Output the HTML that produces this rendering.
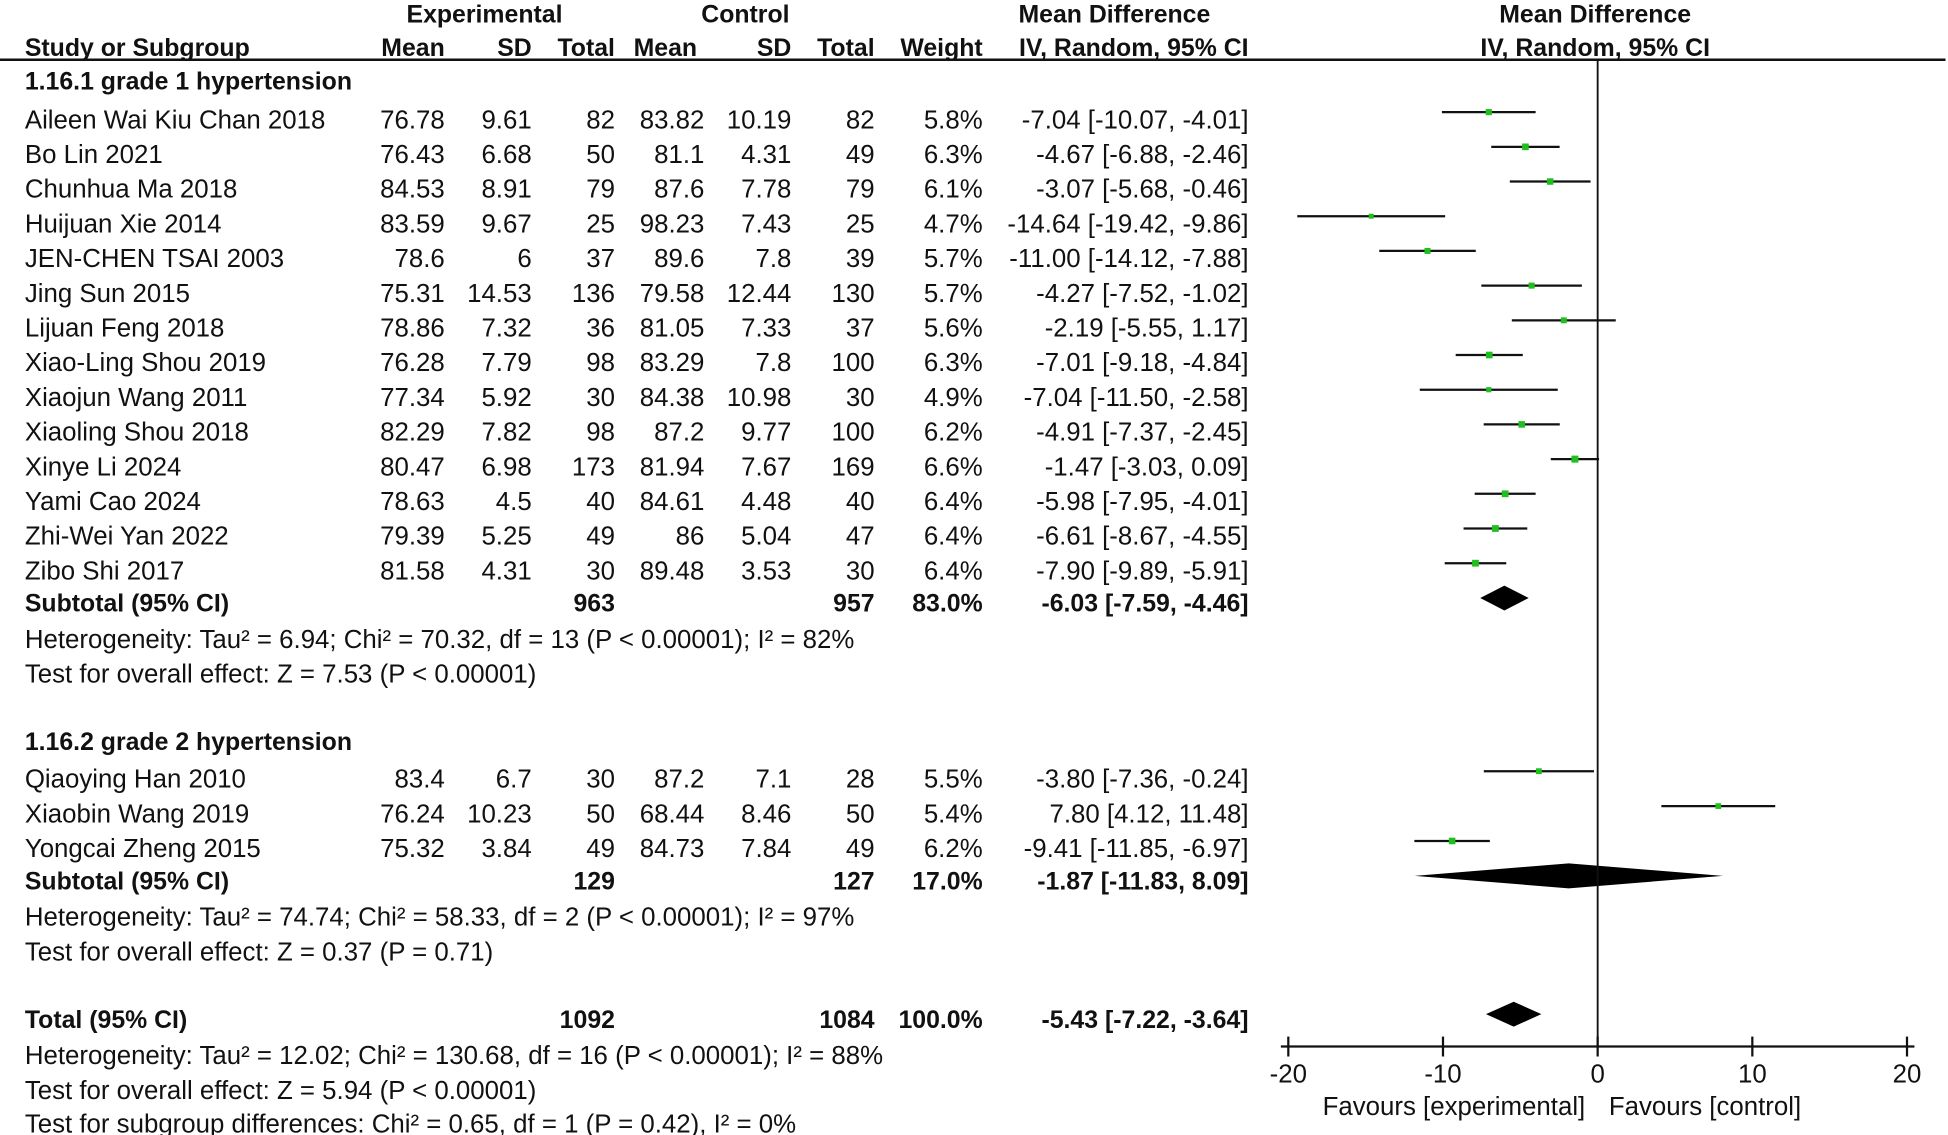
<!DOCTYPE html>
<html><head><meta charset="utf-8"><style>
html,body{margin:0;padding:0;background:#fff;}
svg{display:block;}
text{font-family:"Liberation Sans",Arial,sans-serif;font-size:20.8px;fill:#111;}
.b{font-weight:bold;font-size:20px;}
</style></head><body>
<svg id="plot" width="1948" height="1135" viewBox="0 0 1568 911" preserveAspectRatio="none" xmlns="http://www.w3.org/2000/svg">
<g id="hdr">
<text class="b" x="390" y="18" text-anchor="middle">Experimental</text>
<text class="b" x="600" y="18" text-anchor="middle">Control</text>
<text class="b" x="897" y="18" text-anchor="middle">Mean Difference</text>
<text class="b" x="1284" y="18" text-anchor="middle">Mean Difference</text>
<text class="b" x="20" y="45">Study or Subgroup</text>
<text class="b" x="358" y="45" text-anchor="end">Mean</text>
<text class="b" x="428" y="45" text-anchor="end">SD</text>
<text class="b" x="495" y="45" text-anchor="end">Total</text>
<text class="b" x="510" y="45">Mean</text>
<text class="b" x="637" y="45" text-anchor="end">SD</text>
<text class="b" x="704" y="45" text-anchor="end">Total</text>
<text class="b" x="791" y="45" text-anchor="end">Weight</text>
<text class="b" x="1005" y="45" text-anchor="end">IV, Random, 95% CI</text>
<text class="b" x="1284" y="45" text-anchor="middle">IV, Random, 95% CI</text>
<line x1="0" y1="48" x2="1566" y2="48" stroke="#111" stroke-width="2"/>
</g>
<g id="rows"></g>
<g id="marks"></g>
<g id="axis"></g>
</svg>
<script>
const studyNames=["Aileen Wai Kiu Chan 2018","Bo Lin 2021","Chunhua Ma 2018","Huijuan Xie 2014","JEN-CHEN TSAI 2003","Jing Sun 2015","Lijuan Feng 2018","Xiao-Ling Shou 2019","Xiaojun Wang 2011","Xiaoling Shou 2018","Xinye Li 2024","Yami Cao 2024","Zhi-Wei Yan 2022","Zibo Shi 2017","Qiaoying Han 2010","Xiaobin Wang 2019","Yongcai Zheng 2015"];
const expMean=["76.78","76.43","84.53","83.59","78.6","75.31","78.86","76.28","77.34","82.29","80.47","78.63","79.39","81.58","83.4","76.24","75.32"];
const expSD=["9.61","6.68","8.91","9.67","6","14.53","7.32","7.79","5.92","7.82","6.98","4.5","5.25","4.31","6.7","10.23","3.84"];
const expN=[82,50,79,25,37,136,36,98,30,98,173,40,49,30,30,50,49];
const ctlMean=["83.82","81.1","87.6","98.23","89.6","79.58","81.05","83.29","84.38","87.2","81.94","84.61","86","89.48","87.2","68.44","84.73"];
const ctlSD=["10.19","4.31","7.78","7.43","7.8","12.44","7.33","7.8","10.98","9.77","7.67","4.48","5.04","3.53","7.1","8.46","7.84"];
const ctlN=[82,49,79,25,39,130,37,100,30,100,169,40,47,30,28,50,49];
const weights=[5.8,6.3,6.1,4.7,5.7,5.7,5.6,6.3,4.9,6.2,6.6,6.4,6.4,6.4,5.5,5.4,6.2];
const md=[-7.04,-4.67,-3.07,-14.64,-11.00,-4.27,-2.19,-7.01,-7.04,-4.91,-1.47,-5.98,-6.61,-7.90,-3.80,7.80,-9.41];
const lo=[-10.07,-6.88,-5.68,-19.42,-14.12,-7.52,-5.55,-9.18,-11.50,-7.37,-3.03,-7.95,-8.67,-9.89,-7.36,4.12,-11.85];
const hi=[-4.01,-2.46,-0.46,-9.86,-7.88,-1.02,1.17,-4.84,-2.58,-2.45,0.09,-4.01,-4.55,-5.91,-0.24,11.48,-6.97];
const pooledLabels=["Subtotal (95% CI)","Subtotal (95% CI)","Total (95% CI)"];
const pooledExpN=[963,129,1092];
const pooledCtlN=[957,127,1084];
const pooledW=["83.0%","17.0%","100.0%"];
const pooledMD=[-6.03,-1.87,-5.43];
const pooledLo=[-7.59,-11.83,-7.22];
const pooledHi=[-4.46,8.09,-3.64];
const xTicks=[-20,-10,0,10,20];

const NS="http://www.w3.org/2000/svg";
const rowsG=document.getElementById('rows'),marksG=document.getElementById('marks'),axisG=document.getElementById('axis');
const X0=1286,XS=12.45,AXY=840;
function xs(v){return X0+v*XS;}
function mk(tag,attrs,parent){const e=document.createElementNS(NS,tag);for(const k in attrs)e.setAttribute(k,attrs[k]);parent.appendChild(e);return e;}
function txt(s,x,y,anchor,bold,parent){const t=mk('text',{x:x,y:y,'text-anchor':anchor||'start'},parent);if(bold)t.setAttribute('class','b');t.textContent=s;return t;}
function fmt(v){return v.toFixed(2);}
function ciStr(m,l,h){return fmt(m)+" ["+fmt(l)+", "+fmt(h)+"]";}

const g1=txt("1.16.1 grade 1 hypertension",20,72,'start',true,rowsG);


const g2=txt("1.16.2 grade 2 hypertension",20,602,'start',true,rowsG);


const notes=[["Heterogeneity: Tau² = 6.94; Chi² = 70.32, df = 13 (P < 0.00001); I² = 82%",520],["Test for overall effect: Z = 7.53 (P < 0.00001)",548],["Heterogeneity: Tau² = 74.74; Chi² = 58.33, df = 2 (P < 0.00001); I² = 97%",743],["Test for overall effect: Z = 0.37 (P = 0.71)",771],["Heterogeneity: Tau² = 12.02; Chi² = 130.68, df = 16 (P < 0.00001); I² = 88%",854],["Test for overall effect: Z = 5.94 (P < 0.00001)",882],["Test for subgroup differences: Chi² = 0.65, df = 1 (P = 0.42), I² = 0%",909]];
notes.forEach(n=>{const t=txt(n[0],20,n[1],'start',false,rowsG);

});

const rowY=[];
for(let i=0;i<14;i++)rowY.push(96+i*27.85);
rowY.push(625,653,681);
studyNames.forEach((n,i)=>{
  const y=rowY[i]+7;
  const g=mk('g',{},rowsG);
  
  
  txt(n,20,y,'start',false,g);
  txt(expMean[i],358,y,'end',false,g);
  txt(expSD[i],428,y,'end',false,g);
  txt(String(expN[i]),495,y,'end',false,g);
  txt(ctlMean[i],567,y,'end',false,g);
  txt(ctlSD[i],637,y,'end',false,g);
  txt(String(ctlN[i]),704,y,'end',false,g);
  txt(weights[i].toFixed(1)+"%",791,y,'end',false,g);
  txt(ciStr(md[i],lo[i],hi[i]),1005,y,'end',false,g);
  const my=rowY[i]-6;
  const l=mk('line',{x1:xs(lo[i]),x2:xs(hi[i]),y1:my,y2:my,stroke:'#111','stroke-width':1.8},marksG);
  
  
  const sz=weights[i]*0.85;
  const r=mk('rect',{x:xs(md[i])-sz/2,y:my-sz/2,width:sz,height:sz,fill:'#1fbf1f'},marksG);
  
  
});
const pY=[484,707,818];
pooledLabels.forEach((n,i)=>{
  const y=pY[i]+7;
  const g=mk('g',{},rowsG);
  
  
  txt(n,20,y,'start',true,g);
  txt(String(pooledExpN[i]),495,y,'end',true,g);
  txt(String(pooledCtlN[i]),704,y,'end',true,g);
  txt(pooledW[i],791,y,'end',true,g);
  txt(ciStr(pooledMD[i],pooledLo[i],pooledHi[i]),1005,y,'end',true,g);
  const dy=pY[i]-4,h=10;
  const d=mk('polygon',{points:`${xs(pooledLo[i])},${dy} ${xs(pooledMD[i])},${dy-h} ${xs(pooledHi[i])},${dy} ${xs(pooledMD[i])},${dy+h}`,fill:'#000'},marksG);
  
  
});
const zl=mk('line',{x1:xs(0),x2:xs(0),y1:48,y2:AXY,stroke:'#111','stroke-width':1.5},axisG);


const al=mk('line',{x1:xs(-20)-6,x2:xs(20)+6,y1:AXY,y2:AXY,stroke:'#111','stroke-width':1.8},axisG);


xTicks.forEach(v=>{
  const t=mk('line',{x1:xs(v),x2:xs(v),y1:AXY-8,y2:AXY+8,stroke:'#111','stroke-width':1.8},axisG);
  
  
  const lb=txt(v<0?"-"+Math.abs(v):String(v),xs(v),869,'middle',false,axisG);
  
  
});
const f1=txt("Favours [experimental]",1276,895,'end',false,axisG);


const f2=txt("Favours [control]",1295,895,'start',false,axisG);


</script>
</body></html>
